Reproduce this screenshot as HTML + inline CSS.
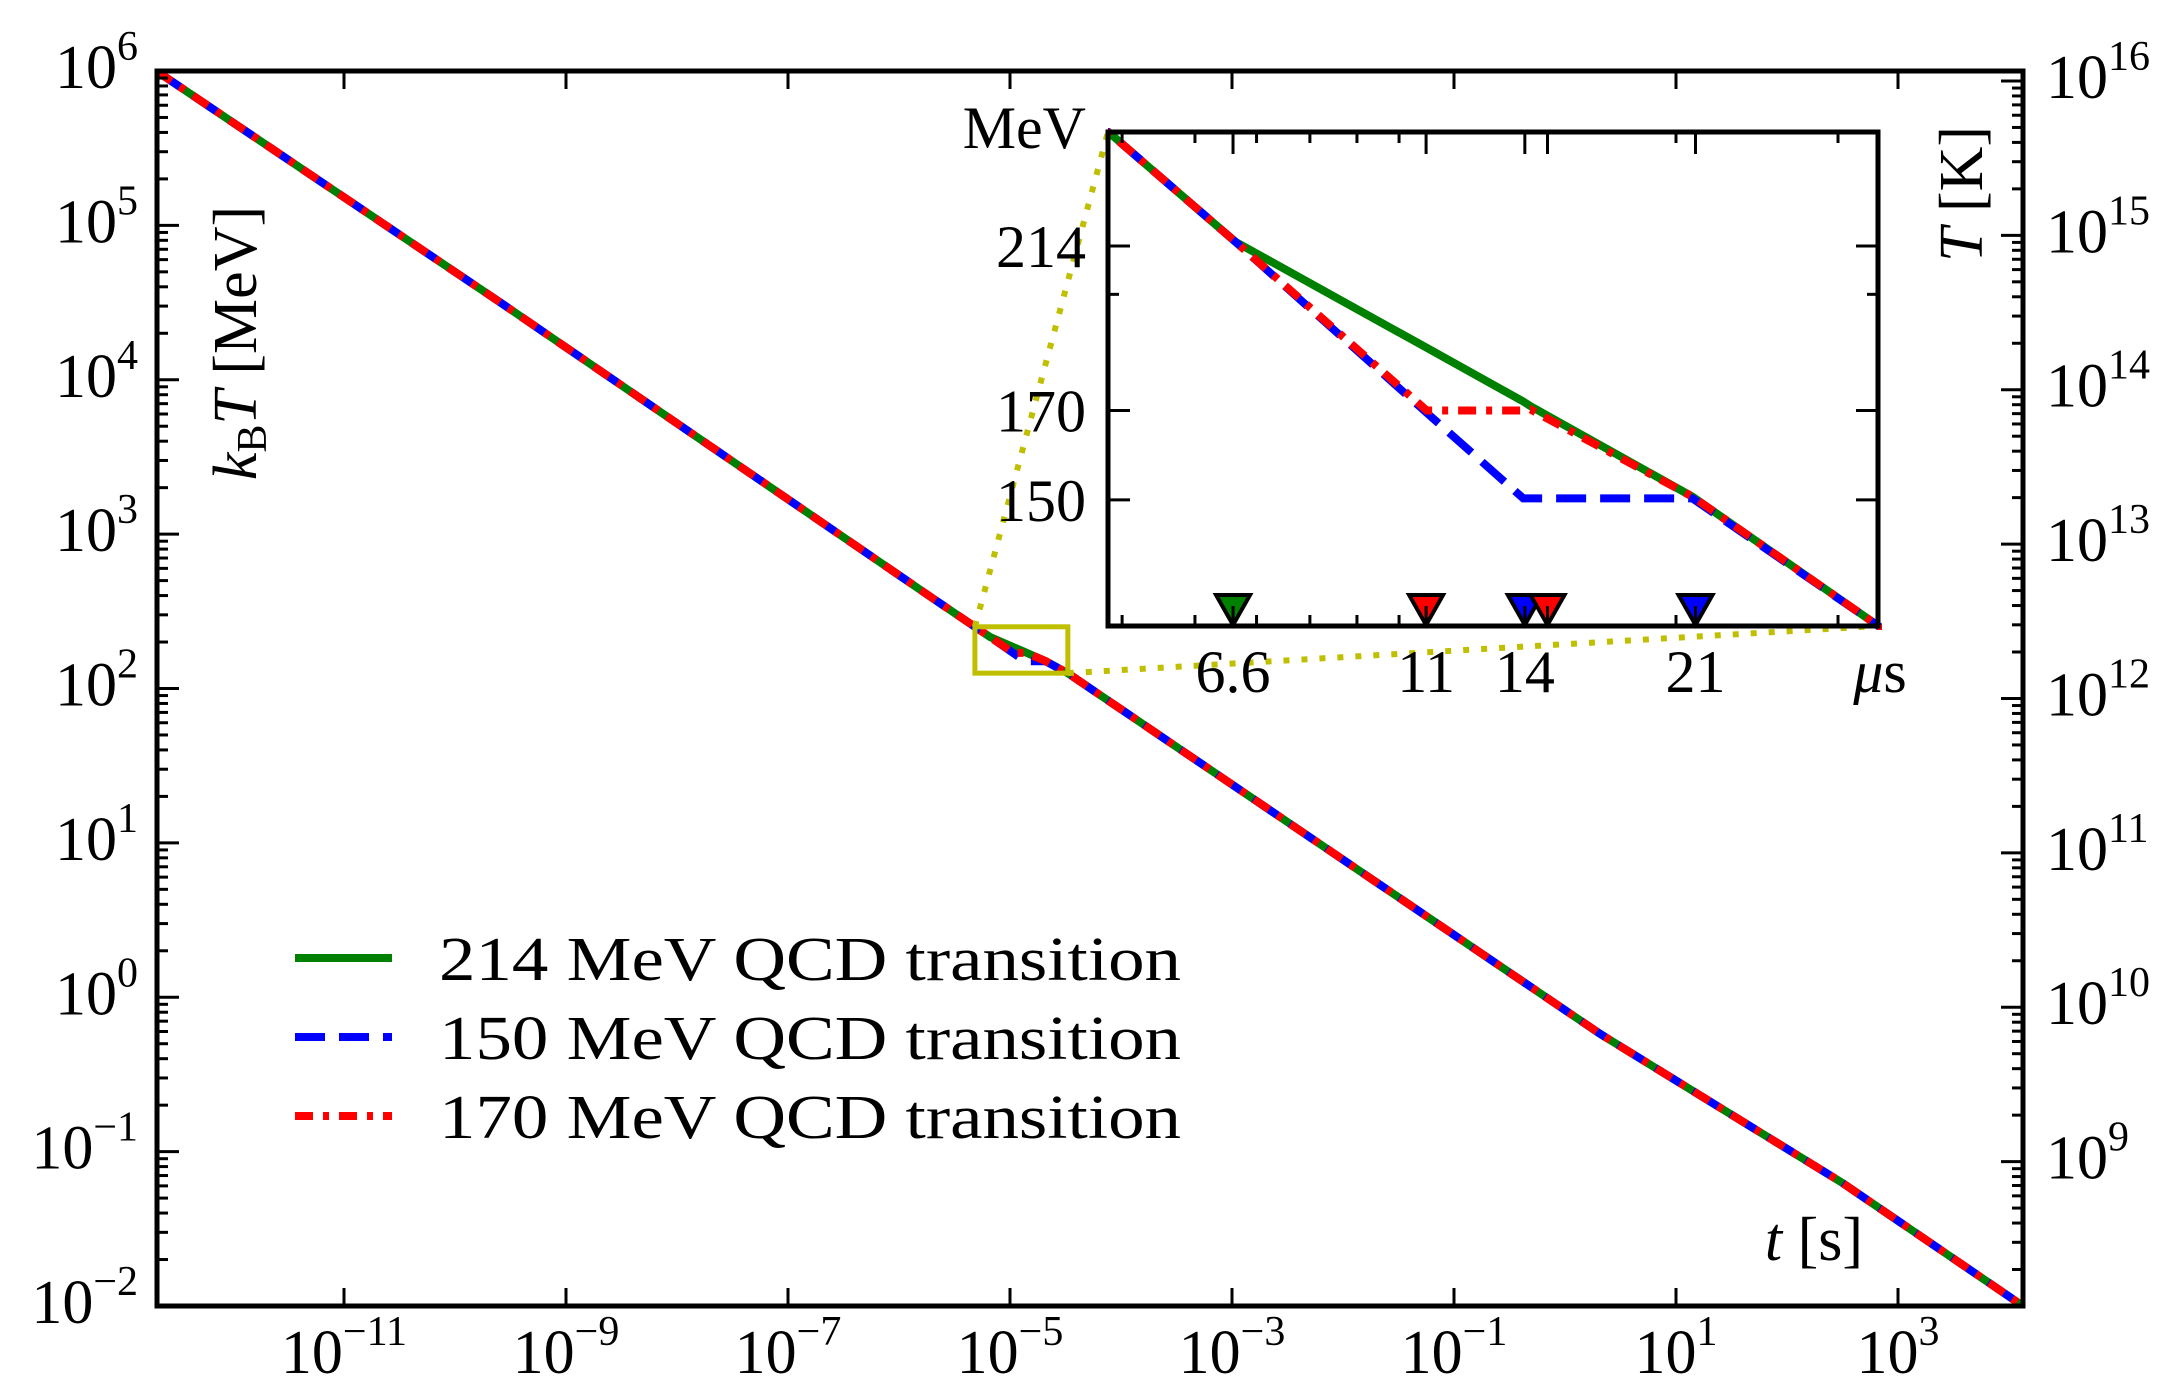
<!DOCTYPE html>
<html><head><meta charset="utf-8"><style>
html,body{margin:0;padding:0;background:#fff;overflow:hidden;width:2171px;height:1400px;}
svg{display:block;font-family:"Liberation Serif",serif;}
</style></head><body>
<svg id="chart" width="2171" height="1400" viewBox="0 0 2171 1400" xmlns="http://www.w3.org/2000/svg"></svg>
<script>
// ---- data (log10 of time in seconds, log10 of k_B T in MeV) ----
const logTime = [-12.69,-9.594,-5.694,-5.316,-5.178,-4.970,-4.865,-4.857,-4.681,-4.479,0.315,2.50,4.126];
const logT214 = [6,4.502,2.583,2.3997,2.333,2.2685,2.2359,2.233,2.178,2.0994,-0.237,-1.203,-2];
const logT150 = [6,4.502,2.583,2.3997,2.333,2.229,2.177,2.177,2.177,2.0994,-0.237,-1.203,-2];
const logT170 = [6,4.502,2.583,2.3997,2.333,2.2304,2.2304,2.231,2.178,2.0994,-0.237,-1.203,-2];
const seriesNames = ["214 MeV QCD transition","150 MeV QCD transition","170 MeV QCD transition"];
const xTickExp = [-11,-9,-7,-5,-3,-1,1,3];
const yTickExp = [-2,-1,0,1,2,3,4,5,6];
const kTickExp = [9,10,11,12,13,14,15,16];
const insetYTicks = [214,170,150];
const markerTimes = [6.6,10.7,13.7,14.5,21];      // microseconds
const markerColors = ["green","red","blue","red","blue"];
const insetXLabels = ["6.6","11","14","21"];
const insetXLabelTimes = [6.6,10.7,13.7,21];

const NS="http://www.w3.org/2000/svg";
const svg=document.getElementById('chart');
function mk(tag,attrs,parent){const e=document.createElementNS(NS,tag);for(const k in attrs)e.setAttribute(k,attrs[k]);(parent||svg).appendChild(e);return e;}

const L=157,R=2023,T=71,B=1306;
const xPerDec=111, x10_3=1898;
const X=lt=>x10_3+(lt-3)*xPerDec;
const yPerDec=(B-T)/8;
const Y=lT=>T+(6-lT)*yPerDec;
const kOff=Math.log10(1.1605e10);
const iL=1108,iR=1878,iT=132,iB=626;
const ixPerDec=920, ix20=1676;
const IX=lus=>ix20+(lus-Math.log10(20))*ixPerDec;
const iyPerDec=1645;
const IY=lT=>246+(Math.log10(214)-lT)*iyPerDec;

const colors=["#008000","#0000ff","#ff0000"];
const dashes=["none","30 14","18 10 6 10"];
const series=[logT214,logT150,logT170];
const W=8;
const neg=e=>(e<0?'\u2212'+(-e):''+e);

const gMain=mk('g',{});


const clipM=mk('clipPath',{id:'cm'});mk('rect',{x:L,y:T,width:R-L,height:B-T},clipM);
series.forEach((s,i)=>{
  const d=logTime.map((t,j)=>(j?'L':'M')+X(t).toFixed(1)+','+Y(s[j]).toFixed(1)).join(' ');
  const p=mk('path',{d:d,fill:'none',stroke:colors[i],'stroke-width':W,'stroke-dasharray':dashes[i],'clip-path':'url(#cm)'},gMain);
  
  
});
xTickExp.forEach(e=>{
  const x=X(e);
  mk('line',{x1:x,y1:B,x2:x,y2:B-18,stroke:'#000','stroke-width':3});
  mk('line',{x1:x,y1:T,x2:x,y2:T+18,stroke:'#000','stroke-width':3});
  const t=mk('text',{x:x,y:1373,'font-size':62,'text-anchor':'middle'});
  
  
  t.innerHTML='10<tspan dy="-28" font-size="42">'+neg(e)+'</tspan>';
});
yTickExp.forEach(e=>{
  const y=Y(e);
  for(let m=2;m<=9&&e<6;m++){const ym=Y(e+Math.log10(m));mk('line',{x1:L,y1:ym,x2:L+11,y2:ym,stroke:'#000','stroke-width':3});}
  mk('line',{x1:L,y1:y,x2:L+22,y2:y,stroke:'#000','stroke-width':3});
  const t=mk('text',{x:138,y:y+17,'font-size':62,'text-anchor':'end'});
  
  
  t.innerHTML='10<tspan dy="-28" font-size="42">'+neg(e)+'</tspan>';
});
kTickExp.concat([8]).forEach(e=>{
  for(let m=1;m<=9;m++){
    const ym=Y(e+Math.log10(m)-kOff);
    if(ym<T||ym>B)continue;
    mk('line',{x1:R,y1:ym,x2:R-(m==1?22:11),y2:ym,stroke:'#000','stroke-width':3});
  }
});
kTickExp.forEach(e=>{
  const y=Y(e-kOff);
  const t=mk('text',{x:2046,y:y+17,'font-size':62});
  
  
  t.innerHTML='10<tspan dy="-28" font-size="42">'+e+'</tspan>';
});
mk('rect',{x:L,y:T,width:R-L,height:B-T,fill:'none',stroke:'#000','stroke-width':5});

let lab=mk('text',{x:0,y:0,'font-size':62,'text-anchor':'middle',transform:'translate(256,343) rotate(-90)'});

lab.innerHTML='<tspan font-style="italic">k</tspan><tspan font-size="42" dy="10">B</tspan><tspan font-style="italic" dy="-10">T</tspan> [MeV]';
lab=mk('text',{x:0,y:0,'font-size':62,'text-anchor':'middle',transform:'translate(1982,194) rotate(-90)'});

lab.innerHTML='<tspan font-style="italic">T</tspan> [K]';
lab=mk('text',{x:1814,y:1260,'font-size':62,'text-anchor':'middle'});

lab.innerHTML='<tspan font-style="italic">t</tspan> [s]';

const bx1=X(Math.log10(4.83e-6)),bx2=X(Math.log10(33.2e-6)),by1=Y(2.3997),by2=Y(2.0994);
const zb=mk('rect',{x:bx1,y:by1,width:bx2-bx1,height:by2-by1,fill:'none',stroke:'#bfbf00','stroke-width':5});

mk('line',{x1:bx1,y1:by1,x2:iL,y2:iT,stroke:'#bfbf00','stroke-width':6,'stroke-dasharray':'6 12'});
mk('line',{x1:bx2,y1:by2,x2:iR,y2:iB,stroke:'#bfbf00','stroke-width':6,'stroke-dasharray':'6 12'});

const gLeg=mk('g',{});

seriesNames.forEach((n,i)=>{
  const y=958+i*79;
  mk('line',{x1:295,y1:y,x2:392,y2:y,stroke:colors[i],'stroke-width':W,'stroke-dasharray':dashes[i]},gLeg);
  const t=mk('text',{x:439,y:y+22,'font-size':62,textLength:742,lengthAdjust:'spacingAndGlyphs'},gLeg);
  
  t.textContent=n;
});

const gIn=mk('g',{});

mk('rect',{x:iL,y:iT,width:iR-iL,height:iB-iT,fill:'#fff'},gIn);
const clipI=mk('clipPath',{id:'ci'});mk('rect',{x:iL,y:iT-4,width:iR-iL+4,height:iB-iT+8},clipI);
series.forEach((s,i)=>{
  const d=logTime.map((t,j)=>(j?'L':'M')+IX(t+6).toFixed(1)+','+IY(s[j]).toFixed(1)).join(' ');
  const p=mk('path',{d:d,fill:'none',stroke:colors[i],'stroke-width':W,'stroke-dasharray':dashes[i],'clip-path':'url(#ci)'},gIn);
  
  
});
[5,6,7,8,9,10,20,30].forEach(v=>{const x=IX(Math.log10(v));
  mk('line',{x1:x,y1:iB,x2:x,y2:iB-11,stroke:'#000','stroke-width':3},gIn);
  mk('line',{x1:x,y1:iT,x2:x,y2:iT+11,stroke:'#000','stroke-width':3},gIn);});
markerTimes.forEach(v=>{const x=IX(Math.log10(v));
  mk('line',{x1:x,y1:iB,x2:x,y2:iB-22,stroke:'#000','stroke-width':3},gIn);
  mk('line',{x1:x,y1:iT,x2:x,y2:iT+22,stroke:'#000','stroke-width':3},gIn);});
[200].concat(insetYTicks).forEach((v,k)=>{const y=IY(Math.log10(v));const len=k?22:11;
  mk('line',{x1:iL,y1:y,x2:iL+len,y2:y,stroke:'#000','stroke-width':3},gIn);
  mk('line',{x1:iR,y1:y,x2:iR-len,y2:y,stroke:'#000','stroke-width':3},gIn);});
insetYTicks.forEach(v=>{
  const t=mk('text',{x:1086,y:IY(Math.log10(v))+21,'font-size':60,'text-anchor':'end'},gIn);
  
  t.textContent=v;
});
let t2=mk('text',{x:1086,y:148,'font-size':60,'text-anchor':'end'},gIn);
t2.textContent='MeV';
insetXLabels.forEach((s,k)=>{
  const t=mk('text',{x:IX(Math.log10(insetXLabelTimes[k])),y:692,'font-size':60,'text-anchor':'middle'},gIn);
  
  t.textContent=s;
});
t2=mk('text',{x:1880,y:692,'font-size':60,'text-anchor':'middle'},gIn);

t2.innerHTML='<tspan font-style="italic">\u03bc</tspan>s';
markerTimes.forEach((v,k)=>{
  const x=IX(Math.log10(v));
  const m=mk('path',{d:`M${x-17},${iB-31} L${x+17},${iB-31} L${x},${iB-1} Z`,fill:markerColors[k],stroke:'#000','stroke-width':4},gIn);
  
  
  mk('line',{x1:x,y1:iB,x2:x,y2:iB-20,stroke:'#000','stroke-width':3},gIn);
});
mk('rect',{x:iL,y:iT,width:iR-iL,height:iB-iT,fill:'none',stroke:'#000','stroke-width':5},gIn);
</script>
</body></html>
